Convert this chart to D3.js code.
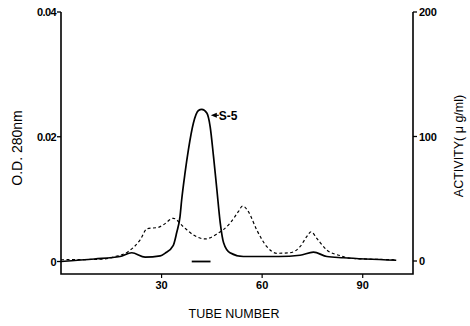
<!DOCTYPE html>
<html>
<head>
<meta charset="utf-8">
<script src="https://cdn.jsdelivr.net/npm/d3@7"></script>
<style>
  body { margin: 0; background: #fff; }
  svg { display: block; }
  text { font-family: "Liberation Sans", Arial, Helvetica, sans-serif; fill: #000; }
</style>
</head>
<body>
<div id="chart"></div>
<script>
// O.D. 280nm (solid line, left axis)
const odTube = [0, 10, 17.6, 21.1, 25.1, 29.6, 31, 33.5, 34.5, 35.5, 36, 37, 38, 39.5, 41, 42, 43.5, 44.5, 45.5, 46.5, 47.5, 48.5, 50.4, 54.4, 65, 71.3, 75.3, 79.3, 84.2, 100];
const odValue = [0, 0.0004, 0.0008, 0.0014, 0.0007, 0.0009, 0.0013, 0.0026, 0.0046, 0.0072, 0.0099, 0.0142, 0.0179, 0.0222, 0.0242, 0.0244, 0.0238, 0.0216, 0.0168, 0.0115, 0.0062, 0.003, 0.0014, 0.0008, 0.0008, 0.001, 0.0015, 0.0008, 0.0006, 0.0002];

// activity (dashed line, right axis)
const actTube = [0, 11.6, 16.1, 20, 23.6, 25.7, 29, 30.5, 33.5, 36.5, 39.5, 43, 46.5, 50.4, 52.9, 54.2, 55.9, 58.4, 61.4, 64.4, 68.4, 71.3, 73.3, 74.6, 76.3, 79.3, 83.3, 86.3, 92, 100];
const actValue = [1, 1.4, 3.5, 7.5, 16.9, 26, 27, 29, 34.3, 27.5, 20.9, 17.7, 21.7, 30.3, 39.6, 44.2, 39.6, 24.9, 11.5, 6.2, 6.7, 11.5, 19.5, 23.5, 18.2, 8.8, 4.3, 2.2, 1.5, 1];

// pooled fractions bar under S-5 peak
const poolRange = [39, 44.6];

const xTicks = [30, 60, 90];
const odTicks = [0, 0.02, 0.04];
const actTicks = [0, 100, 200];

const width = 470, height = 326;
const svg = d3.select('#chart').append('svg')
  .attr('width', width)
  .attr('height', height);

const x = d3.scaleLinear().domain([0, 105]).range([61, 413]);
const yOD = d3.scaleLinear().domain([0, 0.04]).range([261.5, 12]);
const yAct = d3.scaleLinear().domain([0, 200]).range([261, 12]);
const axisBottom = 274;

// axis frame
const frame = svg.append('g').attr('stroke', '#000').attr('fill', 'none');
frame.append('path')
  .attr('d', `M${x.range()[0]},${yOD(0.04)}V${axisBottom}H${x.range()[1]}V${yAct(200)}`)
  .attr('stroke-width', 1.6);

// left ticks
odTicks.forEach(v => {
  frame.append('line')
    .attr('x1', x.range()[0] - 4).attr('x2', x.range()[0])
    .attr('y1', yOD(v)).attr('y2', yOD(v))
    .attr('stroke-width', 1.3);
  svg.append('text')
    .attr('x', x.range()[0] - 5).attr('y', yOD(v) + 4)
    .attr('text-anchor', 'end')
    .attr('font-size', 11).attr('font-weight', 'bold')
    .attr('letter-spacing', -0.6)
    .text(v === 0 ? '0' : d3.format('.2f')(v));
});

// right ticks
actTicks.forEach(v => {
  frame.append('line')
    .attr('x1', x.range()[1]).attr('x2', x.range()[1] + 4)
    .attr('y1', yAct(v)).attr('y2', yAct(v))
    .attr('stroke-width', 1.3);
  svg.append('text')
    .attr('x', x.range()[1] + 6).attr('y', yAct(v) + 4)
    .attr('text-anchor', 'start')
    .attr('font-size', 11).attr('font-weight', 'bold')
    .attr('letter-spacing', -0.3)
    .text(v);
});

// bottom ticks
xTicks.forEach(v => {
  frame.append('line')
    .attr('x1', x(v)).attr('x2', x(v))
    .attr('y1', axisBottom).attr('y2', axisBottom + 4)
    .attr('stroke-width', 1.2);
  svg.append('text')
    .attr('x', x(v)).attr('y', axisBottom + 15)
    .attr('text-anchor', 'middle')
    .attr('font-size', 11).attr('font-weight', 'bold')
    .text(v);
});

// curves
const odLine = d3.line()
  .x((d, i) => x(odTube[i]))
  .y(d => yOD(d))
  .curve(d3.curveMonotoneX);

const actLine = d3.line()
  .x((d, i) => x(actTube[i]))
  .y(d => yAct(d))
  .curve(d3.curveMonotoneX);

svg.append('path')
  .datum(actValue)
  .attr('d', actLine)
  .attr('fill', 'none')
  .attr('stroke', '#000')
  .attr('stroke-width', 1.2)
  .attr('stroke-dasharray', '3,2.5');

svg.append('path')
  .datum(odValue)
  .attr('d', odLine)
  .attr('fill', 'none')
  .attr('stroke', '#000')
  .attr('stroke-width', 1.7);

// pooled bar
svg.append('line')
  .attr('x1', x(poolRange[0])).attr('x2', x(poolRange[1]))
  .attr('y1', yOD(0)).attr('y2', yOD(0))
  .attr('stroke', '#000').attr('stroke-width', 1.8);

// S-5 annotation
const peakIdx = odValue.indexOf(d3.max(odValue));
const ax = x(odTube[peakIdx]) + 9, ay = yOD(odValue[peakIdx]) + 6;
svg.append('path')
  .attr('d', `M${ax},${ay}l6,-2.5v5z`)
  .attr('fill', '#000');
svg.append('line')
  .attr('x1', ax + 5).attr('x2', ax + 8)
  .attr('y1', ay).attr('y2', ay)
  .attr('stroke', '#000').attr('stroke-width', 1.2);
svg.append('text')
  .attr('x', ax + 8).attr('y', ay + 4.5)
  .attr('font-size', 12).attr('font-weight', 'bold')
  .text('S-5');

// axis titles
svg.append('text')
  .attr('transform', 'translate(22,148) rotate(-90)')
  .attr('text-anchor', 'middle')
  .attr('font-size', 14)
  .text('O.D. 280nm');

svg.append('text')
  .attr('transform', 'translate(463,146) rotate(-90)')
  .attr('text-anchor', 'middle')
  .attr('font-size', 12.5)
  .text('ACTIVITY( \u03bc g/ml)');

svg.append('text')
  .attr('x', 234).attr('y', 318)
  .attr('text-anchor', 'middle')
  .attr('font-size', 12.5)
  .text('TUBE NUMBER');
</script>
</body>
</html>
